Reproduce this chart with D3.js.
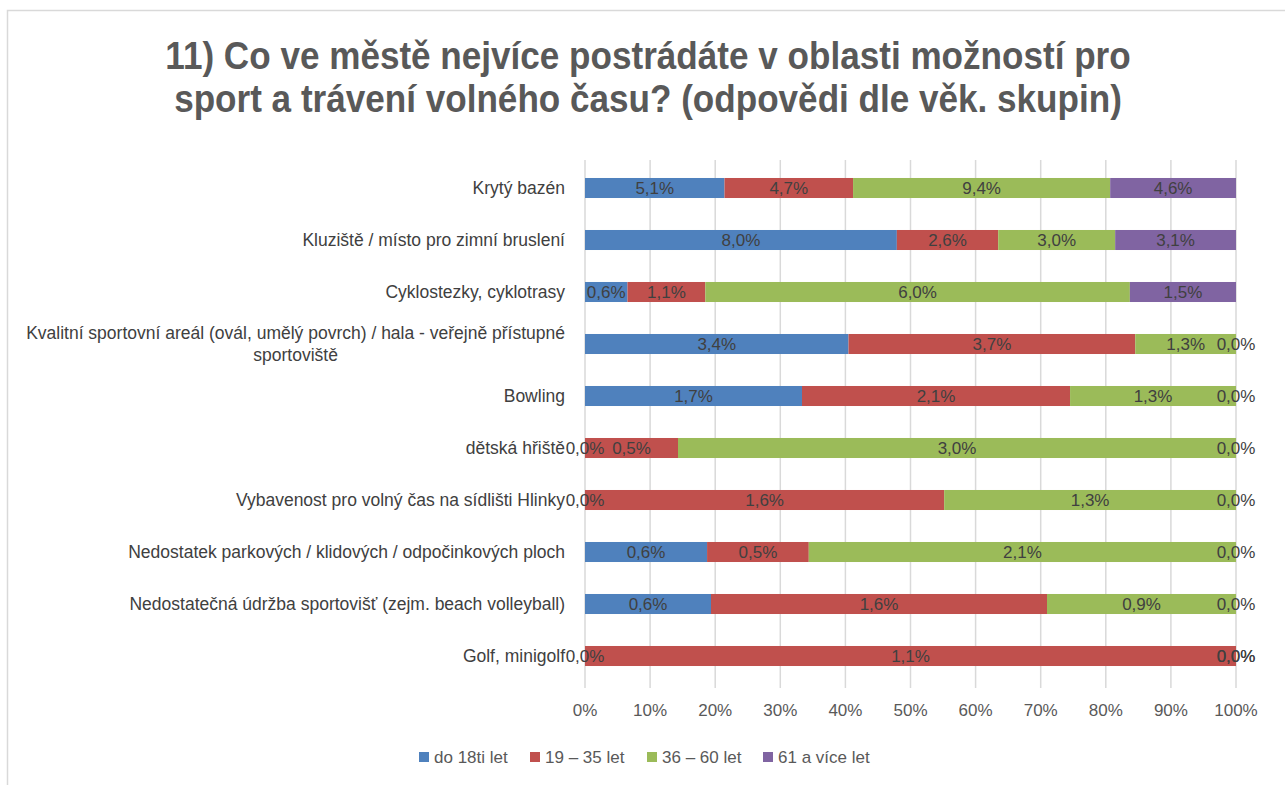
<!DOCTYPE html>
<html>
  <head>
    <meta charset="utf-8">
    <title>Sport a volný čas</title>
    <script src="https://d3js.org/d3.v7.min.js" charset="utf-8"></script>
    <style>
    body {
        margin: 0;
        background: white;
        font-family: "Liberation Sans Narrow", "Arial Narrow", "Liberation Sans", sans-serif;
    }
    </style>
  </head>

  <body>
    <script>
var categories = [
  "Krytý bazén",
  "Kluziště / místo pro zimní bruslení",
  "Cyklostezky, cyklotrasy",
  "Kvalitní sportovní areál (ovál, umělý povrch) / hala - veřejně přístupné\nsportoviště",
  "Bowling",
  "dětská hřiště",
  "Vybavenost pro volný čas na sídlišti Hlinky",
  "Nedostatek parkových / klidových / odpočinkových ploch",
  "Nedostatečná údržba sportovišť (zejm. beach volleyball)",
  "Golf, minigolf"
];
var seriesNames = ["do 18ti let", "19 – 35 let", "36 – 60 let", "61 a více let"];
var colors = ["#4f81bd", "#c0504d", "#9bbb59", "#8064a2"];

// values in % for each age group (same order as categories)
var do18 = [5.1, 8.0, 0.6, 3.4, 1.7, 0.0, 0.0, 0.6, 0.6, 0.0];
var od19 = [4.7, 2.6, 1.1, 3.7, 2.1, 0.5, 1.6, 0.5, 1.6, 1.1];
var od36 = [9.4, 3.0, 6.0, 1.3, 1.3, 3.0, 1.3, 2.1, 0.9, 0.0];
var od61 = [4.6, 3.1, 1.5, 0.0, 0.0, 0.0, 0.0, 0.0, 0.0, 0.0];
var series = [do18, od19, od36, od61];

var xTicks = [0, 0.1, 0.2, 0.3, 0.4, 0.5, 0.6, 0.7, 0.8, 0.9, 1];

var width = 1285;
var height = 785;

var svg = d3.select("body")
  .append("svg")
  .attr("width", width)
  .attr("height", height);

// frame
svg.append("path")
  .attr("d", "M7.5," + height + "V10.5H" + width)
  .attr("fill", "none")
  .attr("stroke", "#d9d9d9")
  .attr("stroke-width", 1.5);

// title (squeezed a bit, the original uses a narrow font)
var title = svg.append("text")
  .attr("transform", "translate(648,0) scale(0.9,1)")
  .attr("text-anchor", "middle")
  .attr("fill", "#595959")
  .style("font-size", "39px")
  .style("font-weight", "bold");
title.append("tspan").attr("x", 0).attr("y", 69)
  .text("11) Co ve městě nejvíce postrádáte v oblasti možností pro");
title.append("tspan").attr("x", 0).attr("y", 112)
  .text("sport a trávení volného času? (odpovědi dle věk. skupin)");

var x = d3.scaleLinear().domain([0, 1]).range([585, 1236]);
var y = d3.scaleBand().domain(categories).range([162, 682])
  .paddingInner(0.615).paddingOuter(0.3075);

// gridlines
svg.append("g").selectAll("line")
  .data(xTicks)
  .enter()
  .append("line")
  .attr("x1", function(d){ return x(d); })
  .attr("x2", function(d){ return x(d); })
  .attr("y1", 160)
  .attr("y2", 688)
  .attr("stroke", "#d9d9d9")
  .attr("stroke-width", 1.5);

// tick labels
svg.append("g").selectAll("text")
  .data(xTicks)
  .enter()
  .append("text")
  .attr("x", function(d){ return x(d); })
  .attr("y", 716)
  .attr("text-anchor", "middle")
  .attr("fill", "#595959")
  .style("font-size", "17px")
  .text(d3.format(".0%"));

// stacked rows normalised to 100 %
var rows = categories.map(function(c, i){
  var total = d3.sum(series, function(s){ return s[i]; });
  var acc = 0;
  return series.map(function(s, k){
    var seg = { cat: c, k: k, v: s[i], x0: acc / total, x1: (acc + s[i]) / total };
    acc += s[i];
    return seg;
  });
});
var segs = d3.merge(rows);

svg.append("g").selectAll("rect")
  .data(segs)
  .enter()
  .append("rect")
  .attr("x", function(d){ return x(d.x0); })
  .attr("y", function(d){ return y(d.cat); })
  .attr("width", function(d){ return x(d.x1) - x(d.x0); })
  .attr("height", y.bandwidth())
  .attr("fill", function(d){ return colors[d.k]; });

function pct(v) {
  return v.toFixed(1).replace(".", ",") + "%";
}

svg.append("g").selectAll("text")
  .data(segs)
  .enter()
  .append("text")
  .attr("x", function(d){ return x((d.x0 + d.x1) / 2); })
  .attr("y", function(d){ return y(d.cat) + y.bandwidth() / 2; })
  .attr("dy", "0.36em")
  .attr("text-anchor", "middle")
  .attr("fill", "#404040")
  .style("font-size", "17px")
  .text(function(d){ return pct(d.v); });

// category labels, right aligned block with centred lines
var catG = svg.append("g");
categories.forEach(function(c){
  var lines = c.split("\n");
  var t = catG.append("text")
    .attr("fill", "#404040")
    .attr("text-anchor", "middle")
    .style("font-size", "17.5px");
  var cy = y(c) + y.bandwidth() / 2 - (lines.length - 1) * 11;
  lines.forEach(function(l, j){
    t.append("tspan").attr("y", cy + j * 22).attr("dy", "0.36em").text(l);
  });
  var maxW = 0;
  t.selectAll("tspan").each(function(){
    maxW = Math.max(maxW, this.getComputedTextLength());
  });
  t.selectAll("tspan").attr("x", 565 - maxW / 2);
});

// legend
var legendX = [419, 530, 647, 763];
var leg = svg.append("g").selectAll("g")
  .data(seriesNames)
  .enter()
  .append("g")
  .attr("transform", function(d, i){ return "translate(" + legendX[i] + ",757)"; });
leg.append("rect")
  .attr("x", 0)
  .attr("y", -5)
  .attr("width", 10)
  .attr("height", 10)
  .attr("fill", function(d, i){ return colors[i]; });
leg.append("text")
  .attr("x", 15)
  .attr("dy", "0.36em")
  .attr("fill", "#595959")
  .style("font-size", "17px")
  .text(function(d){ return d; });
    </script>
  </body>
</html>
